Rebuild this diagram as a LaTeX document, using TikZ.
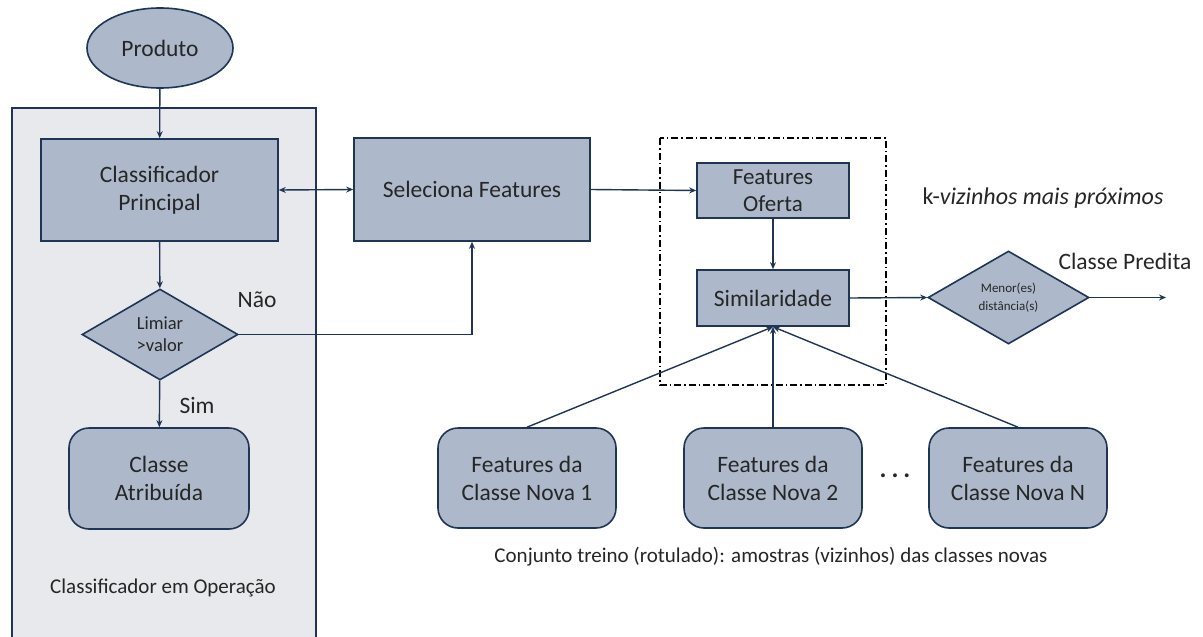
\documentclass[tikz,border=0pt]{standalone}
\usepackage{fontspec}
\setmainfont{Carlito}
\usetikzlibrary{shapes.geometric,arrows.meta}
\definecolor{navy}{HTML}{1F3556}
\definecolor{boxfill}{HTML}{ADB9CA}
\definecolor{panel}{HTML}{E8E9EC}
\definecolor{ink}{HTML}{262626}
\tikzset{
  blk/.style={draw=navy, line width=1.6pt, fill=boxfill, text=ink, align=center, inner sep=1pt},
  rbox/.style={blk, rounded corners=20pt},
  dec/.style={blk, diamond, aspect=1.7, inner sep=0pt},
  conn/.style={draw=navy, line width=1.4pt, -{Stealth[length=7pt,width=6pt]}},
  lbl/.style={text=ink, inner sep=0pt},
  big/.style={font=\fontsize{23.5}{28}\selectfont}
}
\begin{document}
\begin{tikzpicture}[x=1pt,y=-1pt]
\useasboundingbox (0,0) rectangle (1203,637);
\fill[white] (0,0) rectangle (1203,637);

% panel of the classifier in operation
\draw[navy, line width=1.6pt, fill=panel] (12,700) -- (12,108) -- (316,108) -- (316,700);
\node[lbl, font=\fontsize{21}{24}\selectfont] (op) at (163,588) {Classificador em Operação};

% left column
\node[blk, ellipse, minimum width=146pt, minimum height=80pt, big] (prod) at (160,48) {Produto};
\node[blk, minimum width=237pt, minimum height=102pt, big] (cp) at (159.5,190) {Classificador\\Principal};
\node[dec, minimum width=156pt, minimum height=91pt, font=\fontsize{18.5}{22}\selectfont] (lim) at (160,334.5) {Limiar\\>valor};
\node[rbox, minimum width=180pt, minimum height=101pt, big] (ca) at (159,478.5) {Classe\\Atribuída};
\node[lbl, big] (nao) at (257,300) {Não};
\node[lbl, big] (sim) at (197,405) {Sim};

% feature selection
\node[blk, minimum width=236pt, minimum height=103pt, big] (sf) at (472,189.5) {Seleciona Features};

% similarity block
\draw[black, line width=1.5pt, dash pattern=on 7pt off 3pt on 1.5pt off 3pt] (660,138) rectangle (886,385);
\node[blk, minimum width=152pt, minimum height=55pt, font=\fontsize{23}{27}\selectfont] (fo) at (773,190.5) {Features\\Oferta};
\node[blk, minimum width=152pt, minimum height=56pt, big] (sm) at (773,298) {Similaridade};
\node[lbl, font=\fontsize{24}{28}\selectfont] (knn) at (1043,198) {k-\textit{vizinhos mais próximos}};

% decision on distances
\node[dec, minimum width=161pt, minimum height=93pt, font=\fontsize{13}{18}\selectfont] (md) at (1008.5,297.5) {Menor(es)\\distância(s)};
\coordinate (out) at (1166,297.5);
\node[lbl, big] (cpred) at (1125,261) {Classe Predita};

% training set
\node[rbox, minimum width=178pt, minimum height=100pt, big] (f1) at (527,478) {Features da\\Classe Nova 1};
\node[rbox, minimum width=178pt, minimum height=100pt, big] (f2) at (773,478) {Features da\\Classe Nova 2};
\node[rbox, minimum width=178pt, minimum height=100pt, big] (fn) at (1018,478) {Features da\\Classe Nova N};
\node[lbl, font=\fontsize{26}{26}\selectfont] (dots) at (895,476) {\textbf{.\hspace{5pt}.\hspace{5pt}.}};
\node[lbl, font=\fontsize{21}{24}\selectfont] (ct) at (771,557) {Conjunto treino (rotulado): amostras (vizinhos) das classes novas};

% connectors
\draw[conn] (prod) -- (cp);
\draw[conn] (cp) -- (lim);
\draw[conn] (lim) -- (ca);
\draw[conn, {Stealth[length=7pt,width=6pt]}-{Stealth[length=7pt,width=6pt]}] (cp.east) -- (sf.west);
\draw[conn] (lim.east) -| (sf.south);
\draw[conn] (sf.east) -- (fo.west);
\draw[conn] (fo) -- (sm);
\draw[conn] (sm.east) -- (md.west);
\draw[conn] (md.east) -- (out);
\draw[conn] (f1.north) -- (sm.south);
\draw[conn] (f2.north) -- (sm.south);
\draw[conn] (fn.north) -- (sm.south);
\end{tikzpicture}
\end{document}
